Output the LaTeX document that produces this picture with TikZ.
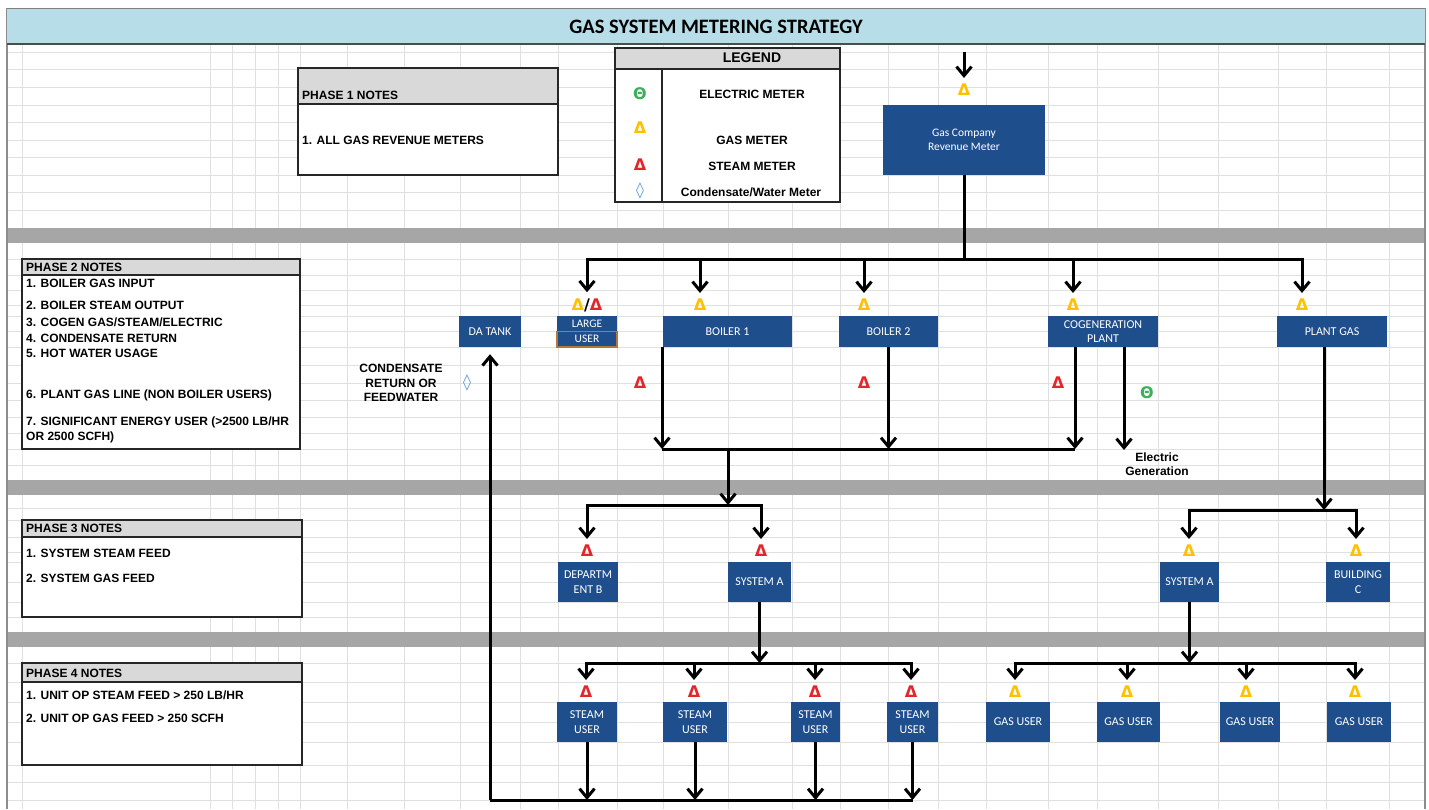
\documentclass[tikz,border=0pt]{standalone}
\usepackage{fontspec}
\setmainfont{Carlito}
\newfontfamily\symfont{DejaVu Sans}
\newfontfamily\notefam{Liberation Sans}
\usepackage{tikz}
\usetikzlibrary{arrows.meta}
\usepackage{xcolor}

\definecolor{titleblue}{HTML}{B7DEE8}
\definecolor{boxblue}{HTML}{1F4E8C}
\definecolor{bandgray}{HTML}{A6A6A6}
\definecolor{headgray}{HTML}{D9D9D9}
\definecolor{gridgray}{HTML}{E0E0E0}
\definecolor{gasyellow}{HTML}{FFC000}
\definecolor{steamred}{HTML}{E3262B}
\definecolor{elecgreen}{HTML}{3DAE5B}
\definecolor{h2oblue}{HTML}{5B9BD5}
\definecolor{useredge}{HTML}{B0793A}

\newcommand{\notefont}{\notefam\fontsize{12}{14.5}\selectfont\bfseries}
\newcommand{\boxfont}{\fontsize{12}{14.5}\selectfont}

\tikzset{
  unit/.style={fill=boxblue, text=white, inner sep=0pt, align=center, font=\boxfont},
  meter/.style={inner sep=1pt, font=\symfont\bfseries\fontsize{16}{16}\selectfont},
  gasmeter/.style={meter, text=gasyellow},
  steammeter/.style={meter, text=steamred},
  elecmeter/.style={meter, text=elecgreen},
  watermeter/.style={meter, text=h2oblue},
  pipe/.style={line width=3pt, black},
  flow/.style={pipe, -{Straight Barb[length=9pt,width=15pt]}},
  feed/.style={flow, shorten >=5pt},
  notebox/.style={draw=black!85, line width=1.6pt},
  notetext/.style={anchor=west, inner sep=0pt, font=\notefont},
}

\begin{document}
\begin{tikzpicture}[x=1pt, y=-1pt]
\useasboundingbox (0,0) rectangle (1429,809);
\begin{scope}[xshift=0cm, yshift=0cm]

\fill[white] (0,0) rectangle (1429,809);

%%%%%%%%%% Sheet Grid %%%%%%%%
{
\foreach \x in {22,210,232,255,278,300,347,404,460,520,558,617,663,728,792,840,888,938,986,1048,1097,1158,1218,1278,1326,1389}
  \draw[gridgray, line width=0.8pt] (\x,44) -- (\x,809);
\foreach \y in {52,69,87,105,122,140,157,175,192,210,259,275,290,305,316,331,347,365,383,400,417,433,449,465,508,520,537,552,562,582,602,617,663,682,702,722,742,765,782,800}
  \draw[gridgray, line width=0.8pt] (7,\y) -- (1425,\y);

\fill[bandgray] (7,228) rectangle (1425,243);
\fill[bandgray] (7,480) rectangle (1425,495);
\fill[bandgray] (7,632) rectangle (1425,647);

\draw[black!45, line width=1.5pt] (7,8) -- (7,809);
\draw[black!45, line width=1.5pt] (1425,8) -- (1425,809);
}

%%%%%%%%%% Title %%%%%%%%
{
\fill[titleblue] (7,8) rectangle (1425,44);
\draw[black!50, line width=1pt] (7,8) -- (1425,8);
\draw[black!70, line width=2.5pt] (7,44) -- (1425,44);
\node (title) at (716,27) [font=\fontsize{20.5}{22}\selectfont\bfseries]{GAS SYSTEM METERING STRATEGY};
}

%%%%%%%%%% Notes %%%%%%%%
{
\fill[white] (298,68) rectangle (558,175);
\fill[headgray] (298,68) rectangle (558,104);
\draw[notebox] (298,68) rectangle (558,175);
\draw[notebox] (298,104) -- (558,104);
\node[notetext] (p1h) at (302,95) {PHASE 1 NOTES};
\node[notetext] (p1a) at (302,140) {1. ALL GAS REVENUE METERS};

\fill[white] (22,259) rectangle (300,449);
\fill[headgray] (22,259) rectangle (300,275);
\draw[notebox] (22,259) rectangle (300,449);
\draw[notebox] (22,275) -- (300,275);
\node[notetext] (p2h) at (26,267) {PHASE 2 NOTES};
\node[notetext] (p2a) at (26,283) {1. BOILER GAS INPUT};
\node[notetext] (p2b) at (26,305) {2. BOILER STEAM OUTPUT};
\node[notetext] (p2c) at (26,322) {3. COGEN GAS/STEAM/ELECTRIC};
\node[notetext] (p2d) at (26,338) {4. CONDENSATE RETURN};
\node[notetext] (p2e) at (26,353) {5. HOT WATER USAGE};
\node[notetext] (p2f) at (26,395) {6. PLANT GAS LINE (NON BOILER USERS)};
\node[notetext] (p2g) at (26,422) {7. SIGNIFICANT ENERGY USER (>2500 LB/HR};
\node[notetext] (p2k) at (26,437) {OR 2500 SCFH)};

\fill[white] (22,520) rectangle (302,617);
\fill[headgray] (22,520) rectangle (302,537);
\draw[notebox] (22,520) rectangle (302,617);
\draw[notebox] (22,537) -- (302,537);
\node[notetext] (p3h) at (26,528) {PHASE 3 NOTES};
\node[notetext] (p3a) at (26,553) {1. SYSTEM STEAM FEED};
\node[notetext] (p3b) at (26,578) {2. SYSTEM GAS FEED};

\fill[white] (22,663) rectangle (302,765);
\fill[headgray] (22,663) rectangle (302,682);
\draw[notebox] (22,663) rectangle (302,765);
\draw[notebox] (22,682) -- (302,682);
\node[notetext] (p4h) at (26,673) {PHASE 4 NOTES};
\node[notetext] (p4a) at (26,695) {1. UNIT OP STEAM FEED > 250 LB/HR};
\node[notetext] (p4b) at (26,718) {2. UNIT OP GAS FEED > 250 SCFH};
}

%%%%%%%%%% Legend %%%%%%%%
{
\fill[white] (615,48) rectangle (840,202);
\fill[headgray] (615,48) rectangle (840,69);
\draw[notebox] (615,48) rectangle (840,202);
\draw[notebox] (615,69) -- (840,69);
\draw[notebox] (662,69) -- (662,202);
\node (leg) at (752,58) [font=\notefam\fontsize{14}{16}\selectfont\bfseries]{LEGEND};

\node[elecmeter] (le) at (640,94) {Θ};
\node[gasmeter] (lg) at (640,128) {Δ};
\node[steammeter] (ls) at (640,165) {Δ};
\node[watermeter] (lw) at (640,191) {◊};

\node (lte) at (752,94) [font=\notefont]{ELECTRIC METER};
\node (ltg) at (752,140) [font=\notefont]{GAS METER};
\node (lts) at (752,166) [font=\notefont]{STEAM METER};
\node (ltw) at (751,192) [font=\notefam\fontsize{12}{13}\selectfont\bfseries]{Condensate/Water Meter};
}

%%%%%%%%%% Phase 1 %%%%%%%%
{
\coordinate (supply) at (964,52);
\node[gasmeter] (mrev) at (964,90) {Δ};
\node[unit, minimum width=162, minimum height=70, font=\fontsize{11.5}{14}\selectfont] (gco) at (964,140) {Gas Company\\Revenue Meter};

\draw[feed] (supply) -- (mrev);
}

%%%%%%%%%% Phase 2 %%%%%%%%
{
\node[unit, minimum width=62, minimum height=31] (datank) at (490,331.5) {DA TANK};
\node[unit, minimum width=60, minimum height=31, font=\fontsize{11.5}{15}\selectfont] (large) at (587,331.5) {LARGE\\USER};
\draw[useredge, line width=1.5pt] (large.west) rectangle (large.south east);
\node[unit, minimum width=129, minimum height=31] (boiler1) at (727.5,331.5) {BOILER 1};
\node[unit, minimum width=99, minimum height=31] (boiler2) at (888.5,331.5) {BOILER 2};
\node[unit, minimum width=110, minimum height=31] (cogen) at (1103,331.5) {COGENERATION\\PLANT};
\node[unit, minimum width=110, minimum height=31] (plantgas) at (1332,331.5) {PLANT GAS};

\node[meter] (mlarge) at (587,305) {\textcolor{gasyellow}{Δ}\textcolor{black}{/}\textcolor{steamred}{Δ}};
\node[gasmeter] (mb1) at (700,305) {Δ};
\node[gasmeter] (mb2) at (864,305) {Δ};
\node[gasmeter] (mcg) at (1073,305) {Δ};
\node[gasmeter] (mpg) at (1302,305) {Δ};

\node[steammeter] (sb1) at (640,383) {Δ};
\node[steammeter] (sb2) at (864,383) {Δ};
\node[steammeter] (scg) at (1058,383) {Δ};
\node[elecmeter] (ecg) at (1147,393) {Θ};
\node[watermeter] (wda) at (467,383) {◊};

\node (cond) at (401,383) [align=center, font=\notefont]{CONDENSATE\\RETURN OR\\FEEDWATER};
\node (elecgen) at (1157,464) [align=center, font=\notefont]{Electric\\Generation};

\coordinate (bus1) at (964,259);
\draw[pipe] (gco) -- (bus1);
\draw[feed] (bus1) -| (mlarge);
\draw[feed] (bus1) -| (mb1);
\draw[feed] (bus1) -| (mb2);
\draw[feed] (bus1) -| (mcg);
\draw[feed] (bus1) -| (mpg);

\coordinate (col1) at (662,449);
\coordinate (col) at (728,449);
\coordinate (col3) at (1075,449);
\coordinate (elecend) at (1124,450);
\draw[pipe] (col1) -- (col3);
\draw[flow] (boiler1.south -| col1) -- (col1);
\draw[flow] (boiler2) -- (boiler2 |- col);
\draw[flow] (cogen.south -| col3) -- (col3);
\draw[flow] (cogen.south -| elecend) -- (elecend);
}

%%%%%%%%%% Phase 3 %%%%%%%%
{
\node[unit, minimum width=60, minimum height=40] (deptb) at (588,582) {DEPARTM\\ENT B};
\node[unit, minimum width=63, minimum height=40] (sysa) at (759.5,582) {SYSTEM A};
\node[unit, minimum width=59, minimum height=40] (sysag) at (1189.5,582) {SYSTEM A};
\node[unit, minimum width=64, minimum height=40] (bldgc) at (1358,582) {BUILDING\\C};

\node[steammeter] (mdeptb) at (587,551) {Δ};
\node[steammeter] (msysa) at (761,551) {Δ};
\node[gasmeter] (msysag) at (1189,551) {Δ};
\node[gasmeter] (mbldgc) at (1356,551) {Δ};

\coordinate (sbus) at (728,505);
\coordinate (gbus) at (1324,510);
\draw[flow] (col) -- (sbus);
\draw[feed] (sbus) -| (mdeptb);
\draw[feed] (sbus) -| (msysa);
\draw[flow] (plantgas.south -| gbus) -- (gbus);
\draw[feed] (gbus) -| (msysag);
\draw[feed] (gbus) -| (mbldgc);
}

%%%%%%%%%% Phase 4 %%%%%%%%
{
\node[unit, minimum width=60, minimum height=40] (su1) at (587,722) {STEAM\\USER};
\node[unit, minimum width=64, minimum height=40] (su2) at (695,722) {STEAM\\USER};
\node[unit, minimum width=49, minimum height=40] (su3) at (815.5,722) {STEAM\\USER};
\node[unit, minimum width=51, minimum height=40] (su4) at (912.5,722) {STEAM\\USER};
\node[unit, minimum width=64, minimum height=40] (gu1) at (1018,722) {GAS USER};
\node[unit, minimum width=63, minimum height=40] (gu2) at (1128.5,722) {GAS USER};
\node[unit, minimum width=60, minimum height=40] (gu3) at (1250,722) {GAS USER};
\node[unit, minimum width=64, minimum height=40] (gu4) at (1359,722) {GAS USER};

\node[steammeter] (msu1) at (586,692) {Δ};
\node[steammeter] (msu2) at (694,692) {Δ};
\node[steammeter] (msu3) at (815,692) {Δ};
\node[steammeter] (msu4) at (911,692) {Δ};
\node[gasmeter] (mgu1) at (1015,692) {Δ};
\node[gasmeter] (mgu2) at (1127,692) {Δ};
\node[gasmeter] (mgu3) at (1246,692) {Δ};
\node[gasmeter] (mgu4) at (1355,692) {Δ};

\coordinate (sbus2) at (759.5,663);
\coordinate (gbus2) at (1189.5,663);
\draw[flow] (sysa) -- (sbus2);
\draw[feed] (sbus2) -| (msu1);
\draw[feed] (sbus2) -| (msu2);
\draw[feed] (sbus2) -| (msu3);
\draw[feed] (sbus2) -| (msu4);
\draw[flow] (sysag) -- (gbus2);
\draw[feed] (gbus2) -| (mgu1);
\draw[feed] (gbus2) -| (mgu2);
\draw[feed] (gbus2) -| (mgu3);
\draw[feed] (gbus2) -| (mgu4);

%%%% condensate return
\coordinate (retc) at (490,800);
\draw[flow] (su1) -- (su1 |- retc);
\draw[flow] (su2) -- (su2 |- retc);
\draw[flow] (su3) -- (su3 |- retc);
\draw[flow] (su4) -- (su4 |- retc);
\draw[pipe] (su4 |- retc) -- (retc);
\draw[flow, shorten >=7pt] (retc) -- (datank);
}

\end{scope}
\end{tikzpicture}
\end{document}
